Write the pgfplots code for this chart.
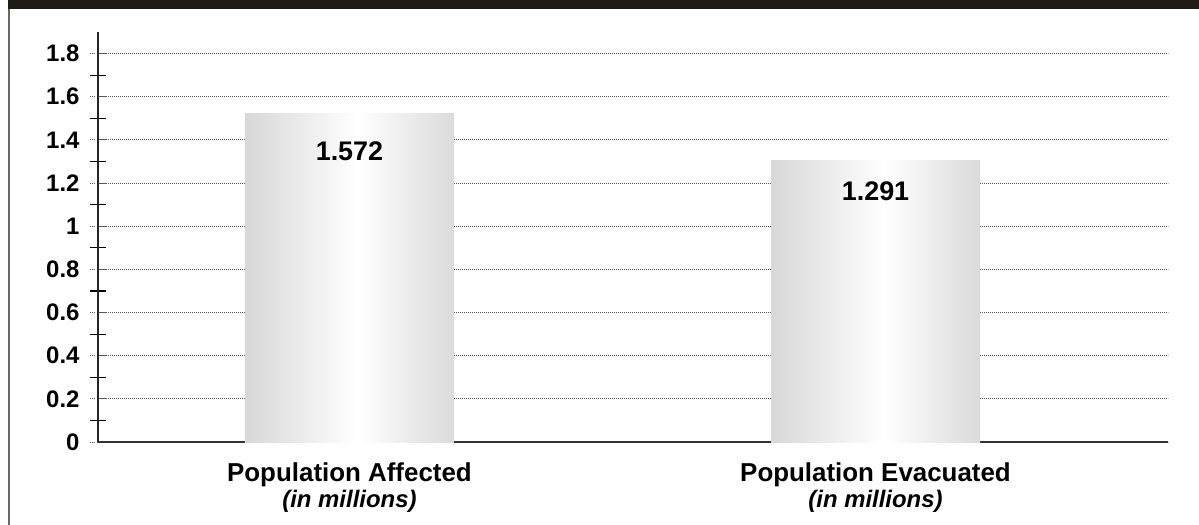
\documentclass[border=0pt]{standalone}
\usepackage{fontspec}
\setmainfont{Liberation Sans}
\usepackage{pgfplots}
\pgfplotsset{compat=1.18}
\definecolor{barL}{HTML}{BCBCBC}
\definecolor{barR}{HTML}{C0C0C0}
\definecolor{band}{HTML}{1E1A18}
\definecolor{frame}{HTML}{6A6664}
\definecolor{gridc}{HTML}{555555}
\pgfdeclarehorizontalshading{cyl}{100bp}{color(0bp)=(barL); color(20bp)=(barL!70!white); color(52bp)=(white); color(80bp)=(barR!70!white); color(100bp)=(barR)}
\begin{document}
\begin{tikzpicture}
\path[use as bounding box] (0,0) rectangle (1199bp,-525bp);
\fill[band] (8bp,0) rectangle (1199bp,-9bp);
\draw[frame, line width=1.8bp] (9bp,-9bp) -- (9bp,-525bp);
\begin{axis}[
  at={(98bp,-442bp)}, anchor=south west,
  scale only axis, width=1070bp, height=410bp,
  xmin=-0.478, xmax=1.556, ymin=0, ymax=1.9,
  axis x line=bottom, axis y line=left,
  axis line style={-, line width=1.2bp, black!85},
  x axis line style={line width=2bp, black!80},
  xtick={0,1}, xticklabels={
    {\fontsize{26}{26}\selectfont\bfseries Population Affected\\[3bp]\fontsize{24}{24}\selectfont\bfseries\itshape (in millions)},
    {\fontsize{26}{26}\selectfont\bfseries Population Evacuated\\[3bp]\fontsize{24}{24}\selectfont\bfseries\itshape (in millions)}},
  xticklabel style={align=center, anchor=north, yshift=-9bp},
  xtick style={draw=none},
  ytick={0,0.2,0.4,0.6,0.8,1,1.2,1.4,1.6,1.8},
  minor ytick={0.1,0.3,0.5,0.7,0.9,1.1,1.3,1.5,1.7},
  tick align=center,
  major tick length=16bp, minor tick length=16bp,
  every major y tick/.append style={dotted, gridc, line width=0.8bp},
  every minor y tick/.append style={solid, black, line width=1.1bp},
  ymajorgrids,
  major grid style={gridc, line width=0.8bp, dash pattern=on 1bp off 1bp},
  /pgf/number format/assume math mode=true,
  yticklabel style={font=\fontsize{24}{24}\selectfont\bfseries, anchor=east, xshift=-7bp},
  clip=false,
]
\addplot[ybar, bar width=209bp, bar shift=0pt, draw=none, shading=cyl,
  nodes near coords, point meta=explicit symbolic,
  nodes near coords style={anchor=north, yshift=-28bp, inner sep=0pt, text=black, font=\fontsize{27}{27}\selectfont\bfseries}]
  coordinates {(0,1.523) [1.572]};
\addplot[ybar, bar width=209bp, bar shift=0pt, draw=none, shading=cyl,
  nodes near coords, point meta=explicit symbolic,
  nodes near coords style={anchor=north, yshift=-21bp, inner sep=0pt, text=black, font=\fontsize{27}{27}\selectfont\bfseries}]
  coordinates {(1,1.306) [1.291]};
\end{axis}
\end{tikzpicture}
\end{document}
